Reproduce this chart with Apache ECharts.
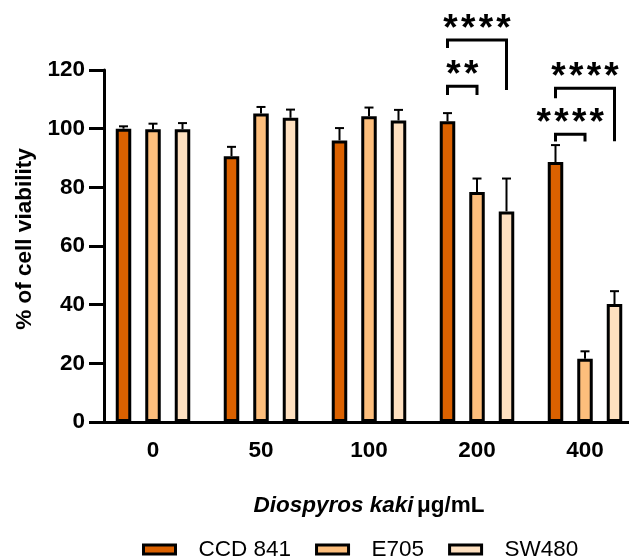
<!DOCTYPE html>
<html><head><meta charset="utf-8">
<script src="https://cdn.jsdelivr.net/npm/echarts@6/dist/echarts.min.js"></script>
<style>html,body{margin:0;padding:0;background:#fff}#c{width:629px;height:560px}</style>
</head><body><div id="c"></div>
<script>
const categories = ['0', '50', '100', '200', '400'];
const seriesNames = ['CCD 841', 'E705', 'SW480'];
const ccd841Mean = [100, 90.6, 96.0, 102.5, 88.6];
const e705Mean = [99.8, 105.2, 104.2, 78.4, 21.6];
const sw480Mean = [99.8, 103.7, 102.8, 71.8, 40.2];
const ccd841Sd = [0.8, 3.2, 4.2, 2.8, 5.8];
const e705Sd = [1.9, 2.2, 3.0, 4.6, 2.5];
const sw480Sd = [2.1, 2.8, 3.6, 11.2, 4.4];
const yTicks = { min: 0, max: 120, interval: 20 };
const sigCategory = [3, 3, 4, 4];
const sigFromBar = [0, 0, 0, 0];
const sigToBar = [2, 1, 2, 1];
const sigLineY = [130.2, 114.5, 113.8, 98.1];
const sigLeftEnd = [127.5, 111.5, 110.4, 95.6];
const sigRightEnd = [113.2, 111.5, 95.7, 95.6];
const sigLabels = ['****', '**', '****', '****'];

const FONT = '"Liberation Sans", Arial, sans-serif';
const COLORS = ['#DB6100', '#FDBE7C', '#FEE0C0'];
const BAR_W = 15.5;
const BAR_PITCH = 29.5;
const means = [ccd841Mean, e705Mean, sw480Mean];
const sds = [ccd841Sd, e705Sd, sw480Sd];

const errData = [];
means.forEach((m, s) => m.forEach((v, c) => errData.push([c, v, sds[s][c], s])));
const sigData = sigCategory.map((c, i) => [c, sigLineY[i], sigLeftEnd[i], sigRightEnd[i], sigFromBar[i], sigToBar[i]]);

const chart = echarts.init(document.getElementById('c'), null, { renderer: 'canvas' });
const barSeries = seriesNames.map((name, s) => ({
  name, type: 'bar', data: means[s], barWidth: BAR_W,
  barGap: ((BAR_PITCH - BAR_W) / BAR_W * 100) + '%',
  itemStyle: { color: COLORS[s], borderColor: '#000', borderWidth: 3 },
  z: 3
}));

chart.setOption({
  animation: false,
  backgroundColor: '#fff',
  textStyle: { fontFamily: FONT },
  grid: { left: 99, top: 70, width: 540, height: 352, containLabel: false, outerBoundsMode: 'none' },
  legend: {
    data: seriesNames, left: 137, top: 533, icon: 'rect',
    itemWidth: 32, itemHeight: 9, itemGap: 24,
    itemStyle: { borderColor: '#000', borderWidth: 3 },
    textStyle: { fontSize: 22.5, color: '#000', fontFamily: FONT, padding: [0, 0, 0, 18] }
  },
  xAxis: {
    type: 'category', data: categories,
    axisLine: { lineStyle: { color: '#000', width: 3 } },
    axisTick: { alignWithLabel: true, length: 15, lineStyle: { color: '#000', width: 3 } },
    axisLabel: { color: '#000', fontWeight: 'bold', fontSize: 22.5, margin: 17, fontFamily: FONT },
    name: '{i|Diospyros kaki} {n|μg/mL}', nameLocation: 'middle', nameGap: 72,
    nameTextStyle: {
      rich: {
        i: { fontStyle: 'italic', fontWeight: 'bold', fontSize: 22.5, color: '#000', fontFamily: FONT },
        n: { fontWeight: 'bold', fontSize: 22.5, color: '#000', fontFamily: FONT }
      }
    }
  },
  yAxis: {
    type: 'value', min: yTicks.min, max: yTicks.max, interval: yTicks.interval, offset: -5,
    axisLine: { show: true, lineStyle: { color: '#000', width: 3 } },
    axisTick: { show: true, length: 15, lineStyle: { color: '#000', width: 3 } },
    splitLine: { show: false },
    axisLabel: { color: '#000', fontWeight: 'bold', fontSize: 22.5, margin: 19, fontFamily: FONT },
    name: '% of cell viability', nameLocation: 'middle', nameGap: 66, nameRotate: 90,
    nameTextStyle: { color: '#000', fontWeight: 'bold', fontSize: 22.5, fontFamily: FONT, padding: [0, 0, 0, 14] }
  },
  series: barSeries.concat([
    {
      type: 'custom', name: 'err', data: errData, z: 2, clip: false,
      encode: { x: 0, y: 1 },
      renderItem: function (params, api) {
        const c = api.value(0), m = api.value(1), sd = api.value(2), s = api.value(3);
        const p0 = api.coord([c, m]);
        const p1 = api.coord([c, m + sd]);
        const x = p0[0] + (s - 1) * BAR_PITCH;
        return { type: 'group', children: [
          { type: 'line', shape: { x1: x, y1: p0[1], x2: x, y2: p1[1] }, style: { stroke: '#000', lineWidth: 2 } },
          { type: 'line', shape: { x1: x - 4.5, y1: p1[1], x2: x + 4.5, y2: p1[1] }, style: { stroke: '#000', lineWidth: 2 } }
        ] };
      }
    },
    {
      type: 'custom', name: 'sig', data: sigData, z: 4, clip: false,
      encode: { x: 0, y: 1 },
      renderItem: function (params, api) {
        const c = api.value(0);
        const pT = api.coord([c, api.value(1)]);
        const pL = api.coord([c, api.value(2)]);
        const pR = api.coord([c, api.value(3)]);
        const xL = pT[0] + (api.value(4) - 1) * BAR_PITCH;
        const xR = pT[0] + (api.value(5) - 1) * BAR_PITCH;
        const children = [{
          type: 'polyline',
          shape: { points: [[xL, pL[1]], [xL, pT[1]], [xR, pT[1]], [xR, pR[1]]] },
          style: { stroke: '#000', lineWidth: 3, fill: null, lineJoin: 'miter' }
        }];
        const label = sigLabels[params.dataIndex];
        const n = label.length;
        const cx = (xL + xR) / 2;
        for (let i = 0; i < n; i++) {
          children.push({
            type: 'text',
            style: { text: '*', x: cx + (i - (n - 1) / 2) * 17.7, y: pT[1] - 10,
              align: 'center', verticalAlign: 'middle', fill: '#000',
              font: 'bold 37px ' + FONT }
          });
        }
        return { type: 'group', children };
      }
    }
  ])
});
</script>
</body></html>
